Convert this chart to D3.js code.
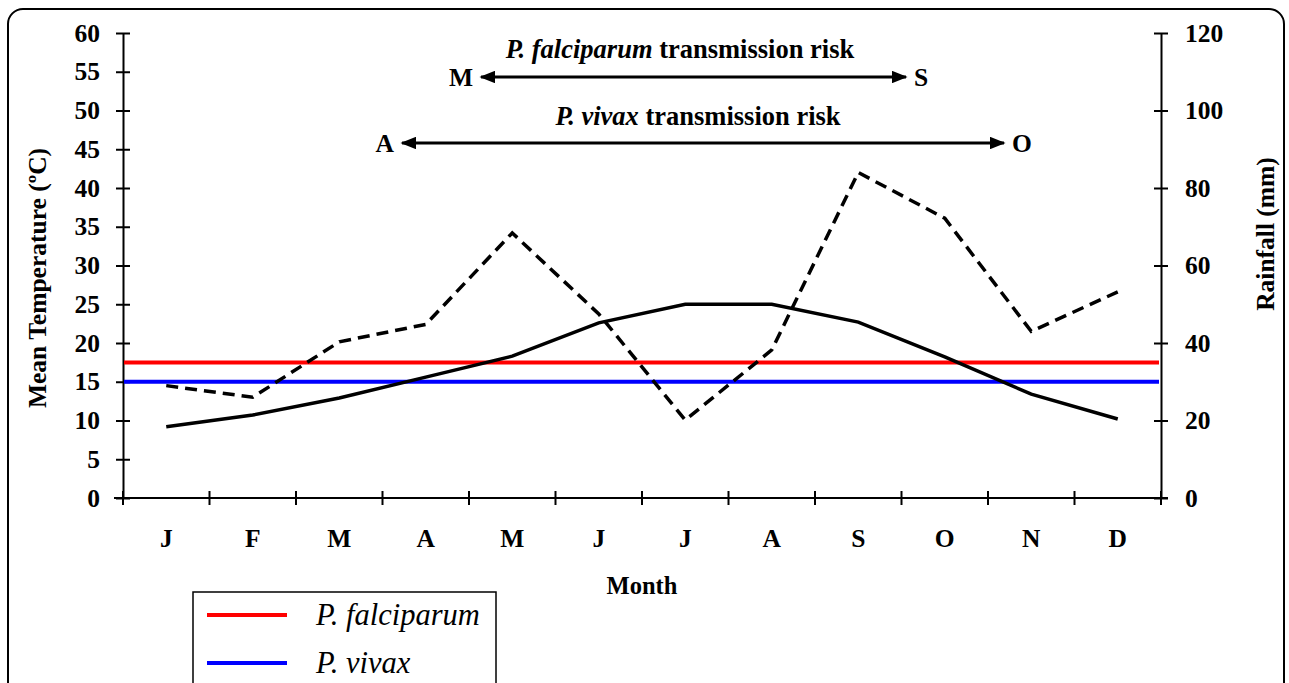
<!DOCTYPE html>
<html>
<head>
<meta charset="utf-8">
<script src="https://cdn.jsdelivr.net/npm/d3@7"></script>
<style>
  body { margin: 0; background: #fff; }
  svg { display: block; }
</style>
</head>
<body>
<div id="chart"></div>
<script>
// chart data
const months = ["J", "F", "M", "A", "M", "J", "J", "A", "S", "O", "N", "D"]
const meanTemp = [9.2, 10.7, 12.9, 15.6, 18.3, 22.6, 25.0, 25.0, 22.7, 18.2, 13.4, 10.2]
const rainfall = [29.0, 26.0, 40.3, 44.8, 68.4, 47.5, 20.1, 38.2, 84.0, 72.2, 43.0, 53.2]
const thresholdNames = ["P. falciparum", "P. vivax"]
const thresholdTemps = [17.5, 15]
const thresholdColors = ["#ff0000", "#0000ff"]
const tempTicks = d3.range(0, 61, 5)
const rainTicks = [0, 20, 40, 60, 80, 100, 120]

// the risk season annotations (start / end letters)
const riskSpecies = ["P. falciparum", "P. vivax"]
const riskStart = ["M", "A"]
const riskEnd = ["S", "O"]

const W = 1289, H = 683
const plot = { left: 123, right: 1161, top: 33, bottom: 498 }
const font = "'Liberation Serif', 'Times New Roman', serif"

const svg = d3.select("#chart").append("svg")
    .attr("width", W)
    .attr("height", H)

// frame round the whole figure
svg.append("rect")
    .attr("x", 8).attr("y", 9)
    .attr("width", 1276).attr("height", 720)
    .attr("rx", 15)
    .attr("fill", "none")
    .attr("stroke", "#000")
    .attr("stroke-width", 2)

// scales
const x = d3.scaleBand()
    .domain(d3.range(months.length))
    .range([plot.left, plot.right])
    .padding(0)
const yTemp = d3.scaleLinear().domain([0, 60]).range([plot.bottom, plot.top])
const yRain = d3.scaleLinear().domain([0, 120]).range([plot.bottom, plot.top])

// left axis
const leftAxis = svg.append("g")
    .attr("transform", "translate(" + plot.left + ",0)")
    .call(d3.axisLeft(yTemp).tickValues(tempTicks).tickSizeInner(7).tickSizeOuter(0).tickPadding(16))
leftAxis.selectAll(".tick line").attr("x1", -7).attr("x2", 7)

// right axis
const rightAxis = svg.append("g")
    .attr("transform", "translate(" + plot.right + ",0)")
    .call(d3.axisRight(yRain).tickValues(rainTicks).tickSizeInner(7).tickSizeOuter(0).tickPadding(17))
rightAxis.selectAll(".tick line").attr("x1", -7).attr("x2", 7)

// bottom axis, labels in the middle of each month
const bottomAxis = svg.append("g")
    .attr("transform", "translate(0," + plot.bottom + ")")
    .call(d3.axisBottom(x).tickSize(0).tickPadding(31).tickFormat(function(i) { return months[i] }))
bottomAxis.select(".domain").remove()

// x axis line and the month boundary ticks
svg.append("line")
    .attr("x1", plot.left - 9).attr("x2", plot.right + 7)
    .attr("y1", plot.bottom).attr("y2", plot.bottom)
    .attr("stroke", "#000").attr("stroke-width", 2)
svg.append("g")
    .selectAll("line")
    .data(d3.range(months.length + 1))
    .enter()
    .append("line")
        .attr("x1", function(i) { return plot.left + i * x.step() })
        .attr("x2", function(i) { return plot.left + i * x.step() })
        .attr("y1", plot.bottom - 7)
        .attr("y2", plot.bottom + 7)
        .attr("stroke", "#000")
        .attr("stroke-width", 2)

svg.selectAll(".domain").attr("stroke-width", 2)
svg.selectAll(".tick line").attr("stroke-width", 2)
svg.selectAll(".tick text")
    .style("font-family", font)
    .style("font-weight", "bold")
    .style("font-size", "25.5px")
    .attr("fill", "#000")

// axis titles
svg.append("text")
    .attr("transform", "translate(46,278) rotate(-90)")
    .attr("text-anchor", "middle")
    .style("font-family", font).style("font-weight", "bold").style("font-size", "25.5px")
    .text("Mean Temperature (\u00baC)")
svg.append("text")
    .attr("transform", "translate(1274,234) rotate(-90)")
    .attr("text-anchor", "middle")
    .style("font-family", font).style("font-weight", "bold").style("font-size", "25.5px")
    .text("Rainfall (mm)")
svg.append("text")
    .attr("x", 642).attr("y", 594)
    .attr("text-anchor", "middle")
    .style("font-family", font).style("font-weight", "bold").style("font-size", "24.5px")
    .text("Month")

// threshold lines
svg.append("g")
    .selectAll("line")
    .data(thresholdTemps)
    .enter()
    .append("line")
        .attr("x1", plot.left + 1)
        .attr("x2", plot.right - 2)
        .attr("y1", function(d) { return yTemp(d) })
        .attr("y2", function(d) { return yTemp(d) })
        .attr("stroke", function(d, i) { return thresholdColors[i] })
        .attr("stroke-width", 4)

// rainfall, dashed
const lineRain = d3.line()
    .x(function(d, i) { return x(i) + x.bandwidth() / 2 })
    .y(function(d) { return yRain(d) })
svg.append("path")
    .datum(rainfall)
    .attr("d", lineRain)
    .attr("fill", "none")
    .attr("stroke", "#000")
    .attr("stroke-width", 3.5)
    .attr("stroke-dasharray", "12,7")

// temperature, solid
const lineTemp = d3.line()
    .x(function(d, i) { return x(i) + x.bandwidth() / 2 })
    .y(function(d) { return yTemp(d) })
svg.append("path")
    .datum(meanTemp)
    .attr("d", lineTemp)
    .attr("fill", "none")
    .attr("stroke", "#000")
    .attr("stroke-width", 3.5)

// transmission risk arrows
svg.append("defs").append("marker")
    .attr("id", "head")
    .attr("viewBox", "0 0 10 8")
    .attr("refX", 9).attr("refY", 4)
    .attr("markerWidth", 5.3).attr("markerHeight", 4.2)
    .attr("markerUnits", "strokeWidth")
    .attr("orient", "auto-start-reverse")
    .append("path")
        .attr("d", "M0,0 L10,4 L0,8 z")
        .attr("fill", "#000")

const arrowX1 = [481, 402], arrowX2 = [906, 1004], arrowY = [77, 143]
const titleX = [680, 698], titleY = [58, 125]
riskSpecies.forEach(function(name, i) {
    const t = svg.append("text")
        .attr("x", titleX[i]).attr("y", titleY[i])
        .attr("text-anchor", "middle")
        .style("font-family", font).style("font-weight", "bold").style("font-size", "26.5px")
    t.append("tspan").style("font-style", "italic").text(name)
    t.append("tspan").text(" transmission risk")

    svg.append("line")
        .attr("x1", arrowX1[i]).attr("x2", arrowX2[i])
        .attr("y1", arrowY[i]).attr("y2", arrowY[i])
        .attr("stroke", "#000").attr("stroke-width", 3)
        .attr("marker-start", "url(#head)")
        .attr("marker-end", "url(#head)")

    svg.append("text")
        .attr("x", arrowX1[i] - 8).attr("y", arrowY[i] + 9)
        .attr("text-anchor", "end")
        .style("font-family", font).style("font-weight", "bold").style("font-size", "25.5px")
        .text(riskStart[i])
    svg.append("text")
        .attr("x", arrowX2[i] + 8).attr("y", arrowY[i] + 9)
        .attr("text-anchor", "start")
        .style("font-family", font).style("font-weight", "bold").style("font-size", "25.5px")
        .text(riskEnd[i])
})

// legend
const legend = svg.append("g").attr("transform", "translate(193,592)")
legend.append("rect")
    .attr("width", 303).attr("height", 150)
    .attr("fill", "#fff")
    .attr("stroke", "#000")
    .attr("stroke-width", 1.5)
thresholdNames.forEach(function(name, i) {
    legend.append("line")
        .attr("x1", 14).attr("x2", 94)
        .attr("y1", 23 + i * 48).attr("y2", 23 + i * 48)
        .attr("stroke", thresholdColors[i])
        .attr("stroke-width", 4)
    legend.append("text")
        .attr("x", 123).attr("y", 33 + i * 48)
        .style("font-family", font).style("font-style", "italic").style("font-size", "30.5px")
        .text(name)
})
</script>
</body>
</html>
